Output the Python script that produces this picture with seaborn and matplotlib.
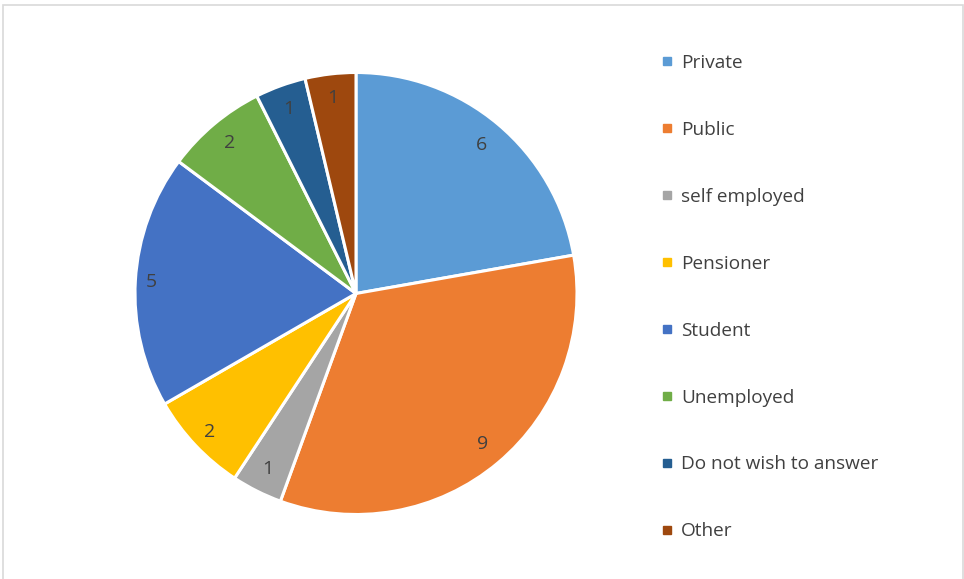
import matplotlib
matplotlib.use("Agg")
import matplotlib.pyplot as plt
import numpy as np
from matplotlib.lines import Line2D
from matplotlib.patches import Rectangle
import seaborn as sns

categories = ["Private", "Public", "self employed", "Pensioner", "Student",
              "Unemployed", "Do not wish to answer", "Other"]
counts = [6, 9, 1, 2, 5, 2, 1, 1]
colors = ["#5B9BD5", "#ED7D31", "#A5A5A5", "#FFC000", "#4472C4",
          "#70AD47", "#255E91", "#9E480E"]
label_radius = [0.88, 0.89, 0.89, 0.91, 0.93, 0.89, 0.89, 0.89]

sns.set_theme(style="white")
plt.rcParams["font.family"] = ["Open Sans", "DejaVu Sans"]

W, H = 964, 579
fig = plt.figure(figsize=(W / 100, H / 100), dpi=100)
fig.patch.set_facecolor("white")

# outer chart frame
fig.patches.append(Rectangle((2.5 / W, -0.01), 960.5 / W, (H - 5) / H + 0.01,
                             transform=fig.transFigure, fill=False,
                             edgecolor="#D9D9D9", linewidth=1.2))

cx, cy, r = 356, 293.5, 221
ax = fig.add_axes([(cx - r) / W, (H - cy - r) / H, 2 * r / W, 2 * r / H])
wedges, _ = ax.pie(
    counts, colors=colors, startangle=90, counterclock=False,
    wedgeprops=dict(edgecolor="white", linewidth=2.2))

# value labels placed inside each wedge
for w, n, d in zip(wedges, counts, label_radius):
    ang = np.deg2rad((w.theta1 + w.theta2) / 2)
    ax.text(d * np.cos(ang), d * np.sin(ang), str(n), ha="center",
            va="center", color="#404040", fontsize=14)

ax.set_xlim(-1, 1)
ax.set_ylim(-1, 1)
ax.set_aspect("equal")

handles = [Line2D([], [], linestyle="none", marker="s", markersize=5.5,
                  markerfacecolor=c, markeredgecolor=c) for c in colors]
fig.legend(handles, categories, loc="upper left",
           bbox_to_anchor=(659 / W, 1 - 54 / H), frameon=False,
           fontsize=13.7, labelcolor="#404040", handlelength=0.8,
           handletextpad=0.35, labelspacing=2.57, borderpad=0, borderaxespad=0)

fig.savefig("out.png", dpi=100)
